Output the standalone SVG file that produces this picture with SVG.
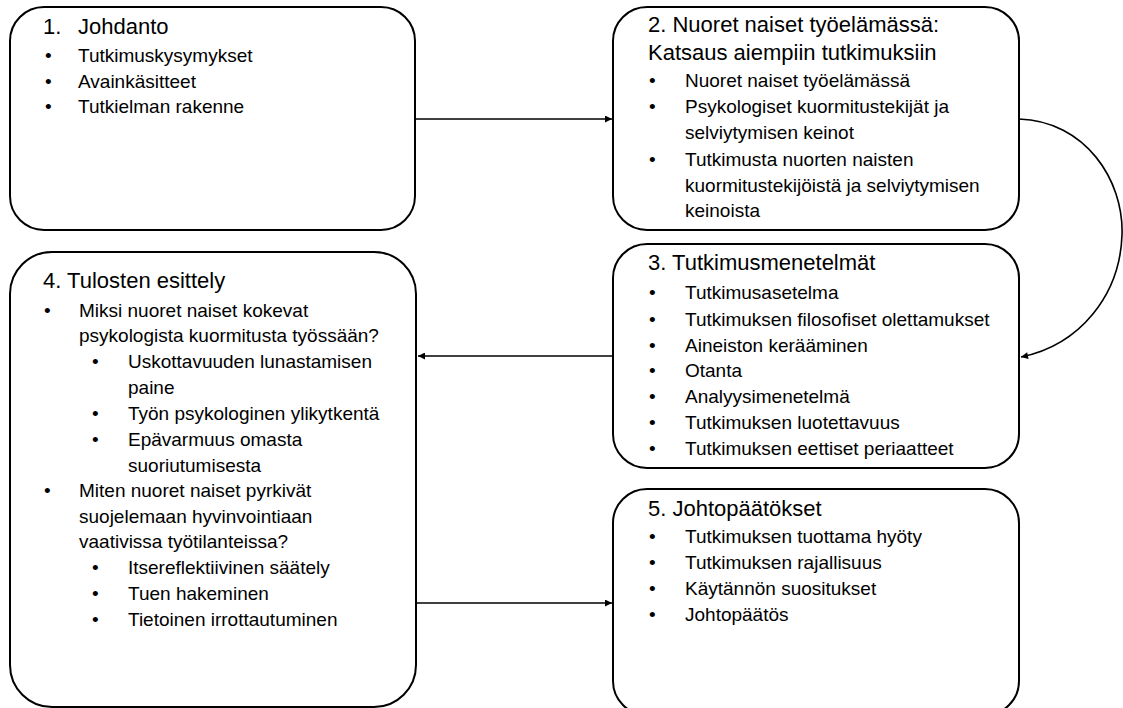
<svg xmlns="http://www.w3.org/2000/svg" width="1123" height="708" viewBox="0 0 1123 708">
<defs>
<style>
.box{fill:#fff;stroke:#000;stroke-width:2}
.h{font-family:"Liberation Sans",Arial,sans-serif;font-size:22px;fill:#000}
.t{font-family:"Liberation Sans",Arial,sans-serif;font-size:19px;fill:#000}
.c{fill:none;stroke:#000;stroke-width:1.6}
</style>
<marker id="ah" viewBox="0 0 10 10" refX="10" refY="5" markerWidth="9" markerHeight="7" markerUnits="userSpaceOnUse" orient="auto">
<path d="M0,0 L10,5 L0,10 z" fill="#000"/>
</marker>
</defs>
<rect width="1123" height="708" fill="#fff"/>
<g id="connectors">
<line class="c" x1="415" y1="119" x2="612" y2="119" marker-end="url(#ah)"/>
<line class="c" x1="613" y1="356" x2="418" y2="356" marker-end="url(#ah)"/>
<line class="c" x1="416" y1="603" x2="612" y2="603" marker-end="url(#ah)"/>
<path class="c" d="M1019,119 C1085,121 1124,180 1122,235 C1120,295 1080,345 1021,357" marker-end="url(#ah)"/>
</g>
<g id="n1">
<rect class="box" x="10" y="7" width="405" height="223" rx="34" ry="34"/>
<text class="h" x="43" y="34">1.</text><text class="h" x="78" y="34">Johdanto</text>
<text class="t" x="45" y="62">•</text><text class="t" x="78" y="62">Tutkimuskysymykset</text>
<text class="t" x="45" y="88">•</text><text class="t" x="78" y="88">Avainkäsitteet</text>
<text class="t" x="45" y="113">•</text><text class="t" x="78" y="113">Tutkielman rakenne</text>
</g>
<g id="n2">
<rect class="box" x="613" y="7" width="406" height="223" rx="34" ry="34"/>
<text class="h" x="648" y="32">2. Nuoret naiset työelämässä:</text>
<text class="h" x="648" y="60">Katsaus aiempiin tutkimuksiin</text>
<text class="t" x="649" y="87">•</text><text class="t" x="685" y="87">Nuoret naiset työelämässä</text>
<text class="t" x="649" y="113">•</text><text class="t" x="685" y="113">Psykologiset kuormitustekijät ja</text>
<text class="t" x="685" y="139">selviytymisen keinot</text>
<text class="t" x="649" y="166">•</text><text class="t" x="685" y="166">Tutkimusta nuorten naisten</text>
<text class="t" x="685" y="192">kuormitustekijöistä ja selviytymisen</text>
<text class="t" x="685" y="217">keinoista</text>
</g>
<g id="n3">
<rect class="box" x="613" y="244" width="406" height="224" rx="34" ry="34"/>
<text class="h" x="648" y="270">3. Tutkimusmenetelmät</text>
<text class="t" x="649" y="299">•</text><text class="t" x="685" y="299">Tutkimusasetelma</text>
<text class="t" x="649" y="326">•</text><text class="t" x="685" y="326">Tutkimuksen filosofiset olettamukset</text>
<text class="t" x="649" y="352">•</text><text class="t" x="685" y="352">Aineiston kerääminen</text>
<text class="t" x="649" y="377">•</text><text class="t" x="685" y="377">Otanta</text>
<text class="t" x="649" y="403">•</text><text class="t" x="685" y="403">Analyysimenetelmä</text>
<text class="t" x="649" y="429">•</text><text class="t" x="685" y="429">Tutkimuksen luotettavuus</text>
<text class="t" x="649" y="455">•</text><text class="t" x="685" y="455">Tutkimuksen eettiset periaatteet</text>
</g>
<g id="n4">
<rect class="box" x="10" y="252" width="406" height="455" rx="42" ry="42"/>
<text class="h" x="43" y="288">4. Tulosten esittely</text>
<text class="t" x="44" y="317">•</text><text class="t" x="79" y="317">Miksi nuoret naiset kokevat</text>
<text class="t" x="79" y="342">psykologista kuormitusta työssään?</text>
<text class="t" x="92" y="368">•</text><text class="t" x="128" y="368">Uskottavuuden lunastamisen</text>
<text class="t" x="128" y="394">paine</text>
<text class="t" x="92" y="420">•</text><text class="t" x="128" y="420">Työn psykologinen ylikytkentä</text>
<text class="t" x="92" y="446">•</text><text class="t" x="128" y="446">Epävarmuus omasta</text>
<text class="t" x="128" y="472">suoriutumisesta</text>
<text class="t" x="44" y="497">•</text><text class="t" x="79" y="497">Miten nuoret naiset pyrkivät</text>
<text class="t" x="79" y="523">suojelemaan hyvinvointiaan</text>
<text class="t" x="79" y="548">vaativissa työtilanteissa?</text>
<text class="t" x="92" y="574">•</text><text class="t" x="128" y="574">Itsereflektiivinen säätely</text>
<text class="t" x="92" y="600">•</text><text class="t" x="128" y="600">Tuen hakeminen</text>
<text class="t" x="92" y="626">•</text><text class="t" x="128" y="626">Tietoinen irrottautuminen</text>
</g>
<g id="n5">
<rect class="box" x="613" y="489" width="406" height="226" rx="34" ry="34"/>
<text class="h" x="648" y="516">5. Johtopäätökset</text>
<text class="t" x="649" y="543">•</text><text class="t" x="685" y="543">Tutkimuksen tuottama hyöty</text>
<text class="t" x="649" y="569">•</text><text class="t" x="685" y="569">Tutkimuksen rajallisuus</text>
<text class="t" x="649" y="595">•</text><text class="t" x="685" y="595">Käytännön suositukset</text>
<text class="t" x="649" y="621">•</text><text class="t" x="685" y="621">Johtopäätös</text>
</g>
</svg>
